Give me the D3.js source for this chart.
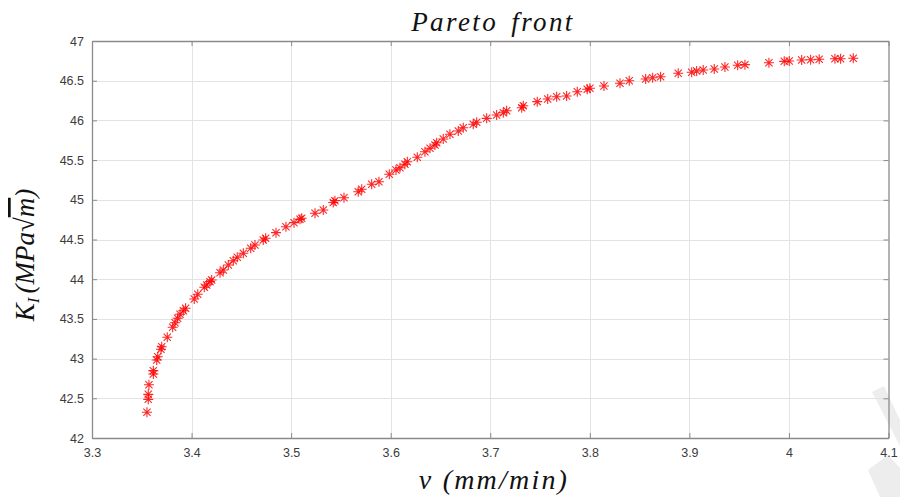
<!DOCTYPE html>
<html><head><meta charset="utf-8">
<script src="https://cdn.jsdelivr.net/npm/d3@7"></script>
<style>body{margin:0;background:#fff;overflow:hidden}</style>
</head><body><svg id="c" width="900" height="497"></svg>
<script>
const vValues = [3.3552,3.3565,3.3565,3.3572,3.3616,3.3616,3.3650,3.3660,3.3693,3.3700,3.3756,3.3810,3.3834,3.3860,3.3884,3.3917,3.3940,3.4027,3.4062,3.4128,3.4152,3.4185,3.4202,
3.4286,3.4319,3.4369,3.4419,3.4459,3.4520,3.4594,3.4637,3.4720,3.4744,3.4848,3.4948,3.5029,3.5089,3.5106,3.5240,3.5323,3.5423,3.5440,
3.5531,3.5674,3.5709,3.5809,3.5882,3.5986,3.6053,3.6093,3.6143,3.6167,3.6267,3.6344,3.6395,3.6445,3.6462,3.6528,3.6595,3.6679,3.6729,3.6829,3.6864,3.6964,
3.7064,3.7131,3.7165,3.7316,3.7332,3.7472,3.7577,3.7667,3.7767,3.7874,3.7974,3.8001,3.8142,3.8303,3.8396,3.8561,3.8631,3.8711,
3.8888,3.9023,3.9073,3.9139,3.9250,3.9357,3.9485,3.9558,3.9799,3.9953,4.0003,4.0128,4.0218,4.0304,4.0462,4.0519,4.0646];
const kValues = [42.324,42.487,42.550,42.671,42.806,42.848,42.982,43.024,43.117,43.150,43.268,43.394,43.452,43.508,43.558,43.603,43.634,43.751,43.810,43.898,43.927,43.969,43.990,
44.082,44.116,44.179,44.233,44.276,44.326,44.389,44.431,44.494,44.515,44.586,44.661,44.712,44.754,44.767,44.830,44.872,44.966,44.989,
45.026,45.102,45.132,45.195,45.228,45.321,45.375,45.404,45.447,45.480,45.535,45.606,45.649,45.690,45.719,45.766,45.825,45.866,45.908,45.951,45.976,46.026,
46.068,46.097,46.122,46.160,46.185,46.236,46.270,46.298,46.307,46.361,46.392,46.404,46.433,46.467,46.500,46.521,46.538,46.550,
46.593,46.606,46.622,46.635,46.647,46.673,46.694,46.702,46.727,46.744,46.748,46.761,46.764,46.770,46.777,46.777,46.782];
const xTicks = [3.3,3.4,3.5,3.6,3.7,3.8,3.9,4.0,4.1];
const yTicks = [42,42.5,43,43.5,44,44.5,45,45.5,46,46.5,47];
const titleText = "Pareto front";

const svg = d3.select("#c");
const L = 92, R = 888.5, T = 41, B = 438;
const x = d3.scaleLinear().domain([3.3, 4.1]).range([L, R]);
const y = d3.scaleLinear().domain([42, 47]).range([B, T]);
const fmt = d3.format("~g");

// watermark fragments
svg.append("path").attr("d","M872,392 L884,386 L900,420 L900,446 Z").attr("fill","#ededed");
svg.append("path").attr("d","M868,470 L888,455 L900,468 L900,497 L880,497 Z").attr("fill","#ededed");

// grid
const g = svg.append("g");
g.selectAll(".gx").data(xTicks.slice(1,-1)).join("line")
  .attr("x1", d => Math.round(x(d))+0.5).attr("x2", d => Math.round(x(d))+0.5)
  .attr("y1", T).attr("y2", B).attr("stroke", "#e3e3e3").attr("stroke-width", 1);
g.selectAll(".gy").data(yTicks.slice(1,-1)).join("line")
  .attr("y1", d => Math.round(y(d))+0.5).attr("y2", d => Math.round(y(d))+0.5)
  .attr("x1", L).attr("x2", R).attr("stroke", "#e3e3e3").attr("stroke-width", 1);

// axes
const axCol = "#8a8a8a";
const xb = svg.append("g").attr("transform", `translate(0,${B})`)
  .call(d3.axisBottom(x).tickValues(xTicks).tickFormat(fmt).tickSizeInner(-5).tickSizeOuter(0).tickPadding(10));
const xt = svg.append("g").attr("transform", `translate(0,${T})`)
  .call(d3.axisTop(x).tickValues(xTicks).tickFormat("").tickSizeInner(-5).tickSizeOuter(0));
const yl = svg.append("g").attr("transform", `translate(${L},0)`)
  .call(d3.axisLeft(y).tickValues(yTicks).tickFormat(fmt).tickSizeInner(-5).tickSizeOuter(0).tickPadding(8));
const yr = svg.append("g").attr("transform", `translate(${R},0)`)
  .call(d3.axisRight(y).tickValues(yTicks).tickFormat("").tickSizeInner(-5).tickSizeOuter(0));
[xb,xt,yl,yr].forEach(a => {
  a.selectAll(".domain").attr("stroke", axCol).attr("stroke-width", 1.3);
  a.selectAll(".tick line").attr("stroke", axCol);
  a.selectAll("text").attr("fill", "#3c3c3c").style("font-family", "'Liberation Sans', Arial, sans-serif").style("font-size", "12.5px");
});

// markers: MATLAB-style 8-spoke asterisk
const asterisk = {
  draw(ctx, size) {
    const r = Math.sqrt(size) / 2, s = r * 0.72;
    ctx.moveTo(-r, 0); ctx.lineTo(r, 0);
    ctx.moveTo(0, -r); ctx.lineTo(0, r);
    ctx.moveTo(-s, -s); ctx.lineTo(s, s);
    ctx.moveTo(-s, s); ctx.lineTo(s, -s);
  }
};
const sym = d3.symbol().type(asterisk).size(100);
svg.append("g").selectAll("path").data(vValues.map((v,i)=>[v,kValues[i]])).join("path")
  .attr("transform", d => `translate(${x(d[0])},${y(d[1])})`)
  .attr("d", sym).attr("fill", "none").attr("stroke", "#ff0000").attr("stroke-width", 1.1).attr("stroke-opacity", 0.85);

// title
svg.append("text").attr("x", 493).attr("y", 31).attr("text-anchor", "middle")
  .style("font-family", "'Liberation Serif', 'DejaVu Serif', serif").style("font-style", "italic")
  .style("font-size", "27px").style("letter-spacing", "2.4px").style("word-spacing", "4px").attr("fill", "#111").text(titleText);

// x label
svg.append("text").attr("x", 494).attr("y", 489).attr("text-anchor", "middle")
  .style("font-family", "'Liberation Serif', 'DejaVu Serif', serif").style("font-style", "italic")
  .style("font-size", "28px").style("letter-spacing", "2.2px").attr("fill", "#111").text("v (mm/min)");

// y label
const yt = svg.append("text").attr("transform", "translate(34,255) rotate(-90)").attr("text-anchor", "middle")
  .style("font-family", "'Liberation Serif', 'DejaVu Serif', serif").style("font-style", "italic")
  .style("font-size", "27px").attr("fill", "#111");
yt.append("tspan").text("K");
yt.append("tspan").attr("dy", 5).style("font-size", "17px").text("I");
yt.append("tspan").attr("dy", -5).attr("dx", 4).text("(MPa");
yt.append("tspan").style("font-style", "normal").text("\u221A");
yt.append("tspan").style("text-decoration", "overline").text("m");
yt.append("tspan").text(")");
</script></body></html>
